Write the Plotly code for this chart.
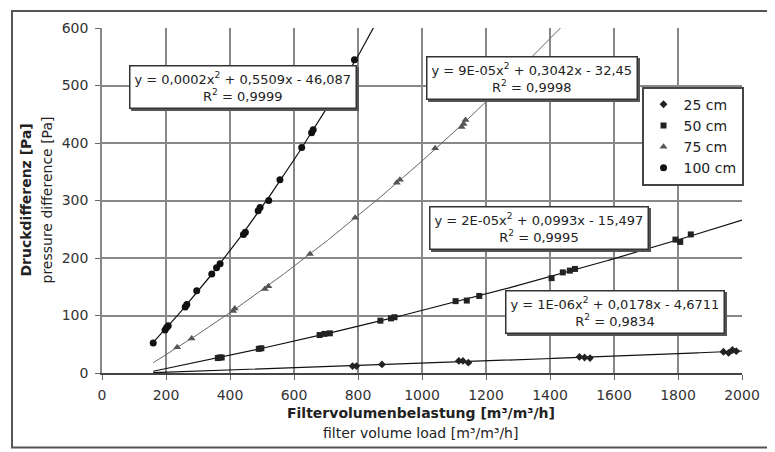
import numpy as np
import plotly.graph_objects as go

# ---- data ----
x_25 = [783, 795, 875, 1115, 1128, 1145, 1492, 1508, 1525, 1942, 1958, 1970, 1982]
y_25 = [12, 12, 15, 21, 21, 18, 28, 27, 26, 37, 35, 40, 38]

x_50 = [362, 368, 374, 490, 498, 680, 695, 712, 870, 903, 914, 1105, 1140, 1179,
        1405, 1440, 1462, 1478, 1792, 1807, 1840]
y_50 = [26, 27, 27, 42, 43, 66, 68, 69, 91, 95, 97, 125, 126, 134,
        165, 175, 178, 181, 232, 228, 241]

x_75 = [235, 280, 410, 415, 509, 520, 650, 791, 921, 931, 1041, 1124, 1130, 1136]
y_75 = [45, 60, 108, 112, 146, 151, 207, 270, 331, 336, 391, 428, 433, 440]

x_100 = [160, 197, 202, 207, 260, 265, 296, 343, 358, 369, 442, 448, 488, 494,
         521, 556, 624, 655, 660, 781, 789]
y_100 = [52, 75, 79, 82, 115, 119, 143, 172, 183, 190, 241, 245, 282, 288,
         300, 336, 392, 418, 423, 529, 545]

series_names = ["25 cm", "50 cm", "75 cm", "100 cm"]

eq_texts = [
    "y = 1E-06x<sup>2</sup> + 0,0178x - 4,6711<br>R<sup>2</sup> = 0,9834",
    "y = 2E-05x<sup>2</sup> + 0,0993x - 15,497<br>R<sup>2</sup> = 0,9995",
    "y = 9E-05x<sup>2</sup> + 0,3042x - 32,45<br>R<sup>2</sup> = 0,9998",
    "y = 0,0002x<sup>2</sup> + 0,5509x - 46,087<br>R<sup>2</sup> = 0,9999",
]

x_ticks = [0, 200, 400, 600, 800, 1000, 1200, 1400, 1600, 1800, 2000]
y_ticks = [0, 100, 200, 300, 400, 500, 600]

FONT = "DejaVu Sans"
TXT = "#222222"

data = [(x_25, y_25), (x_50, y_50), (x_75, y_75), (x_100, y_100)]
styles = [
    dict(symbol="diamond", size=6, color="#222222"),
    dict(symbol="square", size=6, color="#222222"),
    dict(symbol="triangle-up", size=7, color="#555555"),
    dict(symbol="circle", size=7, color="#111111"),
]
line_styles = [
    dict(color="#111111", width=1.2),
    dict(color="#111111", width=1.2),
    dict(color="#666666", width=1.0),
    dict(color="#111111", width=1.2),
]

fig = go.Figure()

x_min_all = min(min(d[0]) for d in data)
xs = np.linspace(x_min_all, x_ticks[-1], 400)

# trendlines (quadratic fit of the read points)
for (xv, yv), ls in zip(data, line_styles):
    c = np.polyfit(xv, yv, 2)
    fig.add_trace(go.Scatter(x=xs, y=np.polyval(c, xs), mode="lines",
                             line=ls, showlegend=False, hoverinfo="skip"))

# markers
for (xv, yv), st, name in zip(data, styles, series_names):
    fig.add_trace(go.Scatter(x=xv, y=yv, mode="markers", name=name,
                             marker=dict(symbol=st["symbol"], size=st["size"],
                                         color=st["color"])))

# equation boxes (paper coords), with shadow copies
eq_pos = [(0.802, 0.176), (0.683, 0.421), (0.672, 0.856), (0.220, 0.830)]
for txt, (px, py) in zip(eq_texts, eq_pos):
    common = dict(text=txt, x=px, y=py, xref="paper", yref="paper",
                  xanchor="center", yanchor="middle",
                  showarrow=False, align="center", borderpad=4,
                  font=dict(family=FONT, size=13, color=TXT))
    fig.add_annotation(**common, bgcolor="#555555", bordercolor="#555555",
                       borderwidth=1.5, xshift=2, yshift=-2)
    fig.add_annotation(**common, bgcolor="white", bordercolor="#333333",
                       borderwidth=1.5)

# axis titles
ttl = dict(xref="paper", yref="paper", showarrow=False,
           xanchor="center", yanchor="middle",
           font=dict(family=FONT, size=14, color=TXT))
fig.add_annotation(text="<b>Druckdifferenz [Pa]</b>", x=-0.1203, y=0.5,
                   textangle=-90, **ttl)
fig.add_annotation(text="pressure difference [Pa]", x=-0.0875, y=0.5,
                   textangle=-90, **ttl)
fig.add_annotation(text="<b>Filtervolumenbelastung [m³/m³/h]</b>", x=0.498,
                   y=-0.115, **ttl)
fig.add_annotation(text="filter volume load [m³/m³/h]", x=0.498,
                   y=-0.173, **ttl)

# outer frame
fig.add_shape(type="rect", xref="paper", yref="paper",
              x0=-0.1406, x1=1.0422, y0=-0.2161, y1=1.049,
              line=dict(color="#555555", width=2), fillcolor="rgba(0,0,0,0)")

fig.update_xaxes(range=[0, 2000], tickvals=x_ticks,
                 showgrid=True, gridcolor="#888888", gridwidth=1.5,
                 zeroline=False, showline=True, linecolor="#444444", linewidth=2,
                 ticks="outside", ticklen=5, tickcolor="#666666",
                 ticklabelstandoff=3,
                 tickfont=dict(family=FONT, size=14, color="#333333"))
fig.update_yaxes(range=[0, 600], tickvals=y_ticks,
                 showgrid=True, gridcolor="#888888", gridwidth=1.5,
                 zeroline=False, showline=True, linecolor="#888888", linewidth=1.5,
                 ticks="outside", ticklen=5, tickcolor="#666666",
                 ticklabelstandoff=4,
                 tickfont=dict(family=FONT, size=14, color="#333333"))

# page body has an 8px margin, so the figure is 8px smaller on each side
fig.update_layout(
    width=767, height=444,
    margin=dict(l=94, r=33, t=18, b=79),
    paper_bgcolor="white", plot_bgcolor="white",
    legend=dict(x=0.843, y=0.83, xanchor="left", yanchor="top",
                bgcolor="white", bordercolor="#444444", borderwidth=2,
                font=dict(family=FONT, size=14, color=TXT),
                itemwidth=30, tracegroupgap=0),
    font=dict(family=FONT, color=TXT),
)

fig.write_html("out.html")
